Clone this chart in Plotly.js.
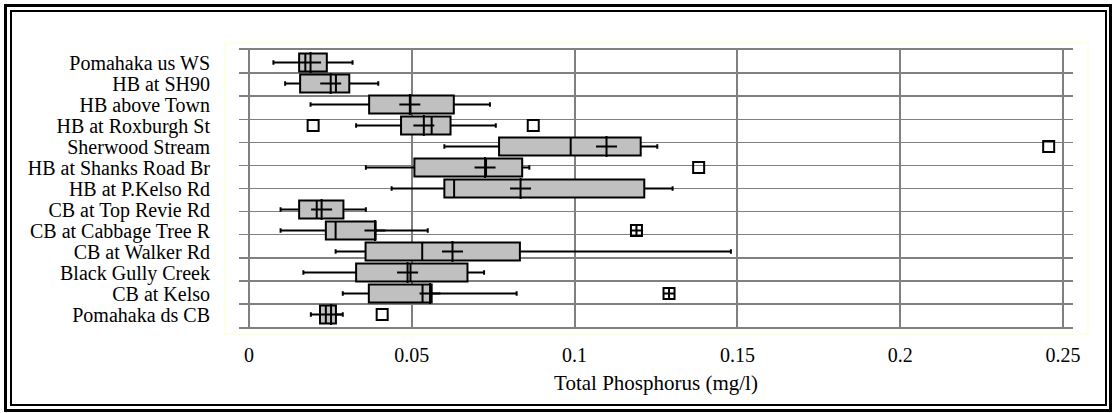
<!DOCTYPE html>
<html><head><meta charset="utf-8">
<script src="https://cdn.plot.ly/plotly-3.0.1.min.js"></script>
<style>
html,body{margin:0;padding:0;background:#fff;}
#wrap{position:relative;width:1114px;height:413px;overflow:hidden;}
#chart{position:absolute;left:0;top:0;width:1114px;height:413px;}
.frame{position:absolute;box-sizing:border-box;pointer-events:none;}
#outer{left:4px;top:4px;width:1108px;height:408px;border:3px solid #000;}
#inner{left:10px;top:10px;width:1097px;height:396px;border:2px solid #000;}
</style></head>
<body><div id="wrap"><div id="chart"></div><div id="outer" class="frame"></div><div id="inner" class="frame"></div></div>
<script>
const sites = ["Pomahaka us WS","HB at SH90","HB above Town","HB at Roxburgh St","Sherwood Stream","HB at Shanks Road Br","HB at P.Kelso Rd","CB at Top Revie Rd","CB at Cabbage Tree R","CB at Walker Rd","Black Gully Creek","CB at Kelso","Pomahaka ds CB"];
const lowerWhisker = [0.0075,0.0111,0.0189,0.0329,0.0600,0.0359,0.0438,0.0097,0.0097,0.0266,0.0167,0.0288,0.0190];
const q1 = [0.0154,0.0157,0.0369,0.0467,0.0768,0.0508,0.0600,0.0154,0.0236,0.0358,0.0329,0.0368,0.0218];
const median = [0.0173,0.0267,0.0496,0.0561,0.0988,0.0728,0.0630,0.0208,0.0266,0.0532,0.0496,0.0533,0.0236];
const q3 = [0.0239,0.0308,0.0629,0.0619,0.1203,0.0839,0.1214,0.0290,0.0389,0.0832,0.0671,0.0561,0.0267];
const upperWhisker = [0.0318,0.0397,0.0740,0.0758,0.1254,0.0861,0.1301,0.0359,0.0549,0.1480,0.0722,0.0822,0.0288];
const meanValue = [0.0189,0.0251,0.0494,0.0537,0.1098,0.0725,0.0834,0.0223,0.0387,0.0625,0.0487,0.0556,0.0252];
const outlierSite = ["HB at Roxburgh St","HB at Roxburgh St","Sherwood Stream","HB at Shanks Road Br","Pomahaka ds CB"];
const outlierValue = [0.0197,0.0873,0.2456,0.1381,0.0409];
const flaggedSite = ["CB at Cabbage Tree R","CB at Kelso"];
const flaggedValue = [0.119,0.129];
const xTicks = [0,0.05,0.1,0.15,0.2,0.25];
const xTickText = ["0","0.05","0.1","0.15","0.2","0.25"];
const gridRows = [0,1,2,3,4,5,6,7,8,9,10,11,12];

const font = "'Liberation Serif', 'Times New Roman', serif";

const traces = [
  {type:'scatter', x:[], y:[], yaxis:'y2', showlegend:false, hoverinfo:'skip'},
  {type:'box', orientation:'h', y:sites, q1:q1, median:median, q3:q3,
   lowerfence:lowerWhisker, upperfence:upperWhisker, boxpoints:false,
   width:0.86, whiskerwidth:0.25, fillcolor:'#c0c0c0',
   line:{color:'#000', width:2}, showlegend:false, hoverinfo:'skip'},
  {type:'scatter', mode:'markers', x:meanValue, y:sites, showlegend:false,
   marker:{symbol:'cross-thin-open', size:15, color:'#000', line:{color:'#000', width:2}}},
  {type:'scatter', mode:'markers', x:outlierValue, y:outlierSite, showlegend:false,
   marker:{symbol:'square-open', size:11, color:'#000', line:{color:'#000', width:2}}},
  {type:'scatter', mode:'markers', x:flaggedValue, y:flaggedSite, showlegend:false,
   marker:{symbol:'square-cross-open', size:11, color:'#000', line:{color:'#000', width:2}}}
];

const layout = {
  width:1114, height:413,
  margin:{l:239, r:41, t:50, b:86, pad:0},
  paper_bgcolor:'#fff', plot_bgcolor:'#fff',
  showlegend:false,
  font:{family:font, color:'#000', size:20},
  xaxis:{range:[-0.00307,0.25307], tickmode:'array', tickvals:xTicks, ticktext:xTickText,
    showgrid:true, gridcolor:'#808080', gridwidth:2,
    zeroline:true, zerolinecolor:'#808080', zerolinewidth:2,
    showline:true, mirror:true, linecolor:'#808080', linewidth:2,
    ticks:'outside', ticklen:9, tickcolor:'rgba(0,0,0,0)',
    tickfont:{family:font, size:20, color:'#000'},
    title:{text:'Total Phosphorus (mg/l)', font:{family:font, size:21, color:'#000'}, standoff:10}},
  yaxis:{type:'category', range:[12.595,-0.595], tickmode:'array', tickvals:sites, ticktext:sites,
    showgrid:false, zeroline:false, showline:false,
    ticks:'outside', ticklen:24, tickcolor:'rgba(0,0,0,0)',
    tickfont:{family:font, size:20, color:'#000'}},
  yaxis2:{overlaying:'y', range:[0,12], tickmode:'array', tickvals:gridRows,
    showticklabels:false, showgrid:true, gridcolor:'#808080', gridwidth:1.5,
    zeroline:false, showline:false, ticks:''},
  shapes:[{type:'rect', xref:'paper', yref:'paper', x0:-0.0168, x1:1.018, y0:-0.0253, y1:1.0253,
    line:{color:'#ffffd0', width:1}, fillcolor:'rgba(0,0,0,0)', layer:'below'}]
};

Plotly.newPlot('chart', traces, layout, {staticPlot:true, displayModeBar:false});
</script>
</body></html>
